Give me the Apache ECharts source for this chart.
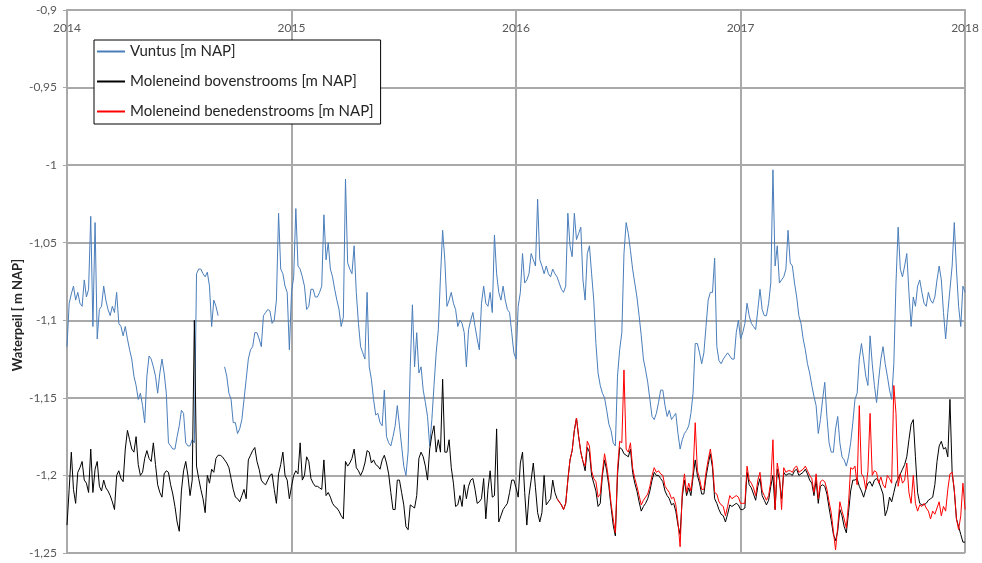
<!DOCTYPE html>
<html>
<head>
<meta charset="utf-8">
<title>Waterpeil</title>
<script src="https://cdn.jsdelivr.net/npm/echarts@6/dist/echarts.min.js"></script>
<style>
html, body {
	margin: 0;
	padding: 0;
	background: #fff;
}
#chart {
	width: 982px;
	height: 563px;
}
</style>
</head>
<body>
<div id="chart"></div>
<script type="text/javascript">
// two readings per week (half-week steps), first one at 1 jan 2014
var startYear = 2014;
var perYear = 104;
var yearTicks = [2014, 2015, 2016, 2017, 2018];

var vuntus = [
	-1.117, -1.089, -1.083, -1.078, -1.087, -1.082, -1.089, -1.091, -1.074, -1.085,
	-1.080, -1.033, -1.104, -1.037, -1.112, -1.093, -1.091, -1.078, -1.087, -1.093,
	-1.097, -1.091, -1.095, -1.082, -1.102, -1.104, -1.110, -1.104, -1.112, -1.119,
	-1.125, -1.136, -1.142, -1.151, -1.147, -1.155, -1.166, -1.136, -1.123, -1.125,
	-1.130, -1.136, -1.147, -1.134, -1.125, -1.134, -1.147, -1.179, -1.181, -1.183,
	-1.183, -1.175, -1.168, -1.158, -1.160, -1.179, -1.181, -1.181, -1.177, -1.179,
	-1.070, -1.067, -1.067, -1.070, -1.072, -1.069, -1.078, -1.104, -1.087, -1.091,
	-1.097, null, null, -1.130, -1.136, -1.147, -1.151, -1.166, -1.166, -1.173,
	-1.170, -1.164, -1.151, -1.138, -1.125, -1.119, -1.117, -1.108, -1.108, -1.112,
	-1.117, -1.097, -1.095, -1.093, -1.094, -1.102, -1.100, -1.087, -1.031, -1.067,
	-1.070, -1.078, -1.082, -1.119, -1.082, -1.072, -1.028, -1.065, -1.067, -1.072,
	-1.078, -1.093, -1.091, -1.080, -1.080, -1.085, -1.085, -1.082, -1.078, -1.032,
	-1.061, -1.050, -1.067, -1.072, -1.080, -1.087, -1.093, -1.104, -1.098, -1.009,
	-1.063, -1.067, -1.070, -1.052, -1.082, -1.102, -1.117, -1.121, -1.125, -1.082,
	-1.130, -1.138, -1.151, -1.161, -1.160, -1.166, -1.168, -1.145, -1.175, -1.179,
	-1.181, -1.175, -1.168, -1.155, -1.168, -1.181, -1.194, -1.200, -1.185, -1.130,
	-1.090, -1.130, -1.108, -1.134, -1.130, -1.145, -1.153, -1.162, -1.181, -1.164,
	-1.142, -1.121, -1.106, -1.072, -1.042, -1.061, -1.091, -1.087, -1.082, -1.089,
	-1.093, -1.104, -1.100, -1.102, -1.108, -1.130, -1.106, -1.100, -1.095, -1.104,
	-1.112, -1.119, -1.089, -1.078, -1.089, -1.091, -1.082, -1.095, -1.045, -1.070,
	-1.082, -1.087, -1.078, -1.087, -1.093, -1.095, -1.108, -1.121, -1.125, -1.091,
	-1.082, -1.057, -1.076, -1.074, -1.070, -1.057, -1.061, -1.065, -1.022, -1.061,
	-1.065, -1.070, -1.065, -1.070, -1.072, -1.067, -1.070, -1.072, -1.076, -1.080,
	-1.082, -1.078, -1.031, -1.052, -1.059, -1.031, -1.048, -1.044, -1.040, -1.074,
	-1.087, -1.057, -1.052, -1.070, -1.087, -1.115, -1.134, -1.142, -1.147, -1.150,
	-1.158, -1.167, -1.171, -1.179, -1.181, -1.136, -1.119, -1.108, -1.057, -1.037,
	-1.044, -1.055, -1.067, -1.076, -1.085, -1.097, -1.110, -1.125, -1.132, -1.140,
	-1.151, -1.162, -1.164, -1.160, -1.153, -1.145, -1.145, -1.155, -1.162, -1.158,
	-1.164, -1.162, -1.160, -1.173, -1.183, -1.177, -1.173, -1.171, -1.168, -1.160,
	-1.147, -1.115, -1.115, -1.121, -1.128, -1.121, -1.104, -1.087, -1.082, -1.082,
	-1.060, -1.117, -1.126, -1.128, -1.125, -1.123, -1.121, -1.123, -1.125, -1.125,
	-1.108, -1.100, -1.112, -1.108, -1.102, -1.089, -1.097, -1.102, -1.104, -1.106,
	-1.093, -1.080, -1.093, -1.097, -1.097, -1.089, -1.076, -1.003, -1.065, -1.052,
	-1.076, -1.074, -1.072, -1.067, -1.042, -1.063, -1.065, -1.076, -1.085, -1.097,
	-1.102, -1.112, -1.119, -1.128, -1.134, -1.142, -1.149, -1.155, -1.173, -1.164,
	-1.151, -1.140, -1.162, -1.179, -1.185, -1.185, -1.170, -1.162, -1.179, -1.188,
	-1.190, -1.194, -1.188, -1.179, -1.166, -1.151, -1.147, -1.125, -1.115, -1.125,
	-1.136, -1.142, -1.110, -1.128, -1.142, -1.153, -1.138, -1.125, -1.117, -1.128,
	-1.136, -1.145, -1.151, -1.128, -1.076, -1.040, -1.067, -1.072, -1.065, -1.057,
	-1.082, -1.104, -1.085, -1.091, -1.078, -1.074, -1.082, -1.089, -1.091, -1.082,
	-1.087, -1.089, -1.085, -1.074, -1.065, -1.074, -1.095, -1.112, -1.095, -1.080,
	-1.065, -1.037, -1.067, -1.091, -1.104, -1.078, -1.082
];

var bovenstrooms = [
	-1.232, -1.209, -1.185, -1.209, -1.218, -1.198, -1.195, -1.191, -1.203, -1.205,
	-1.211, -1.183, -1.211, -1.196, -1.191, -1.207, -1.210, -1.203, -1.208, -1.210,
	-1.213, -1.217, -1.222, -1.200, -1.197, -1.202, -1.204, -1.183, -1.171, -1.177,
	-1.183, -1.185, -1.175, -1.193, -1.200, -1.198, -1.189, -1.184, -1.189, -1.191,
	-1.179, -1.193, -1.206, -1.211, -1.214, -1.199, -1.197, -1.198, -1.206, -1.212,
	-1.220, -1.230, -1.236, -1.210, -1.197, -1.191, -1.200, -1.213, -1.203, -1.100,
	-1.194, -1.202, -1.209, -1.215, -1.224, -1.200, -1.205, -1.196, -1.198, -1.189,
	-1.187, -1.187, -1.188, -1.190, -1.192, -1.195, -1.202, -1.209, -1.214, -1.215,
	-1.217, -1.213, -1.209, -1.215, -1.190, -1.187, -1.184, -1.182, -1.191, -1.196,
	-1.203, -1.205, -1.206, -1.203, -1.200, -1.199, -1.209, -1.218, -1.199, -1.193,
	-1.185, -1.200, -1.203, -1.215, -1.207, -1.200, -1.197, -1.199, -1.179, -1.203,
	-1.200, -1.188, -1.191, -1.202, -1.205, -1.207, -1.207, -1.208, -1.209, -1.190,
	-1.213, -1.211, -1.214, -1.218, -1.220, -1.221, -1.223, -1.226, -1.228, -1.191,
	-1.194, -1.192, -1.189, -1.183, -1.195, -1.197, -1.200, -1.197, -1.192, -1.184,
	-1.185, -1.192, -1.190, -1.193, -1.194, -1.196, -1.190, -1.187, -1.192, -1.199,
	-1.211, -1.222, -1.222, -1.203, -1.203, -1.211, -1.219, -1.233, -1.235, -1.219,
	-1.220, -1.221, -1.213, -1.189, -1.185, -1.188, -1.194, -1.203, -1.183, -1.174,
	-1.168, -1.185, -1.177, -1.185, -1.138, -1.185, -1.185, -1.177, -1.195, -1.205,
	-1.220, -1.219, -1.213, -1.220, -1.206, -1.215, -1.207, -1.203, -1.202, -1.209,
	-1.218, -1.217, -1.215, -1.202, -1.228, -1.209, -1.197, -1.214, -1.213, -1.170,
	-1.230, -1.226, -1.222, -1.220, -1.218, -1.211, -1.203, -1.203, -1.208, -1.214,
	-1.192, -1.185, -1.211, -1.232, -1.213, -1.203, -1.192, -1.208, -1.224, -1.230,
	-1.224, -1.200, -1.219, -1.217, -1.215, -1.203, -1.211, -1.215, -1.217, -1.219,
	-1.222, -1.218, -1.203, -1.190, -1.184, -1.171, -1.163, -1.175, -1.185, -1.191,
	-1.197, -1.182, -1.185, -1.200, -1.205, -1.210, -1.220, -1.218, -1.200, -1.190,
	-1.197, -1.207, -1.220, -1.232, -1.239, -1.200, -1.182, -1.183, -1.186, -1.187,
	-1.188, -1.183, -1.198, -1.205, -1.210, -1.217, -1.223, -1.220, -1.218, -1.215,
	-1.210, -1.203, -1.198, -1.200, -1.200, -1.202, -1.204, -1.210, -1.213, -1.215,
	-1.219, -1.218, -1.223, -1.232, -1.238, -1.214, -1.203, -1.213, -1.208, -1.213,
	-1.201, -1.190, -1.200, -1.205, -1.212, -1.212, -1.201, -1.193, -1.186, -1.195,
	-1.215, -1.218, -1.222, -1.225, -1.226, -1.230, -1.225, -1.219, -1.220, -1.219,
	-1.218, -1.219, -1.222, -1.222, -1.221, -1.198, -1.206, -1.208, -1.212, -1.216,
	-1.207, -1.202, -1.213, -1.216, -1.219, -1.216, -1.207, -1.200, -1.222, -1.196,
	-1.203, -1.215, -1.198, -1.200, -1.199, -1.199, -1.200, -1.197, -1.196, -1.200,
	-1.199, -1.198, -1.196, -1.199, -1.203, -1.205, -1.213, -1.203, -1.218, -1.207,
	-1.206, -1.207, -1.212, -1.221, -1.229, -1.238, -1.242, -1.236, -1.222, -1.226,
	-1.233, -1.237, -1.224, -1.210, -1.203, -1.203, -1.202, -1.207, -1.210, -1.214,
	-1.209, -1.205, -1.204, -1.207, -1.203, -1.202, -1.204, -1.208, -1.212, -1.226,
	-1.222, -1.214, -1.217, -1.211, -1.205, -1.202, -1.199, -1.196, -1.193, -1.188,
	-1.177, -1.167, -1.164, -1.188, -1.211, -1.218, -1.219, -1.219, -1.218, -1.216,
	-1.215, -1.214, -1.206, -1.191, -1.181, -1.178, -1.183, -1.182, -1.188, -1.151,
	-1.198, -1.210, -1.228, -1.233, -1.238, -1.243, -1.243
];

// benedenstrooms starts at half-week 227 (spring 2016)
var benedenStart = 227;
var benedenstrooms = [
	-1.215,
	-1.217, -1.219, -1.222, -1.218, -1.203, -1.190, -1.184, -1.171, -1.163, -1.175,
	-1.185, -1.191, -1.194, -1.178, -1.181, -1.197, -1.202, -1.204, -1.214, -1.212,
	-1.198, -1.186, -1.194, -1.204, -1.218, -1.228, -1.237, -1.196, -1.178, -1.179,
	-1.132, -1.183, -1.185, -1.179, -1.195, -1.202, -1.207, -1.213, -1.219, -1.216,
	-1.214, -1.212, -1.207, -1.200, -1.195, -1.198, -1.197, -1.199, -1.200, -1.207,
	-1.209, -1.211, -1.215, -1.214, -1.219, -1.230, -1.246, -1.211, -1.199, -1.211,
	-1.205, -1.210, -1.198, -1.166, -1.197, -1.202, -1.209, -1.209, -1.198, -1.190,
	-1.183, -1.192, -1.211, -1.212, -1.217, -1.219, -1.220, -1.226, -1.220, -1.213,
	-1.215, -1.214, -1.213, -1.214, -1.218, -1.218, -1.218, -1.194, -1.203, -1.205,
	-1.208, -1.213, -1.203, -1.198, -1.210, -1.213, -1.216, -1.213, -1.204, -1.177,
	-1.222, -1.192, -1.200, -1.222, -1.195, -1.198, -1.197, -1.197, -1.198, -1.195,
	-1.194, -1.198, -1.197, -1.196, -1.194, -1.197, -1.200, -1.202, -1.211, -1.199,
	-1.215, -1.204, -1.203, -1.204, -1.209, -1.217, -1.224, -1.236, -1.248, -1.233,
	-1.217, -1.223, -1.228, -1.234, -1.218, -1.195, -1.196, -1.194, -1.206, -1.155,
	-1.199, -1.201, -1.209, -1.197, -1.160, -1.200, -1.197, -1.198, -1.205, -1.201,
	-1.206, -1.208, -1.200, -1.202, -1.205, -1.142, -1.160, -1.207, -1.199, -1.205,
	-1.203, -1.192, -1.211, -1.218, -1.200, -1.218, -1.223, -1.219, -1.220, -1.218,
	-1.221, -1.223, -1.228, -1.223, -1.225, -1.221, -1.217, -1.226, -1.220, -1.223,
	-1.209, -1.199, -1.198, -1.209, -1.228, -1.235, -1.226, -1.205, -1.222
];

var seriesNames = ['Vuntus [m NAP]', 'Moleneind bovenstrooms [m NAP]', 'Moleneind benedenstrooms [m NAP]'];
var seriesColors = ['#4a7ebb', '#000000', '#ff0000'];

function toPoints(values, offset) {
	return values.map(function (v, i) {
		return [startYear + (offset + i) / perYear, v];
	});
}

function commaNumber(v) {
	return String(parseFloat(v.toFixed(2))).replace('.', ',');
}

function lineSeries(k, values, offset) {
	return {
		name: seriesNames[k],
		type: 'line',
		showSymbol: false,
		connectNulls: false,
		color: seriesColors[k],
		itemStyle: {color: seriesColors[k]},
		lineStyle: {width: 1, color: seriesColors[k]},
		data: toPoints(values, offset)
	};
}

var gridColor = '#a9a9a9';
var labelColor = '#595959';
var fontName = 'Lato';

var chart = echarts.init(document.getElementById('chart'));

var option = {
	animation: false,
	backgroundColor: '#fff',
	grid: {left: 67, right: 14, top: 10, bottom: 10},
	legend: {
		orient: 'vertical',
		left: 94,
		top: 40,
		padding: [4, 7, 5, 3],
		itemGap: 15,
		itemWidth: 28,
		itemHeight: 2,
		icon: 'rect',
		borderColor: '#000',
		borderWidth: 1,
		backgroundColor: '#fff',
		data: seriesNames.map(function (n, k) {
			return {name: n, itemStyle: {color: seriesColors[k]}};
		}),
		textStyle: {fontFamily: fontName, fontSize: 15, color: '#262626', lineHeight: 15}
	},
	graphic: [{
		type: 'text',
		x: 18,
		y: 315,
		rotation: Math.PI / 2,
		style: {
			text: 'Waterpeil [ m NAP]',
			font: 'bold 13px Lato',
			fill: '#262626',
			align: 'center',
			verticalAlign: 'middle'
		}
	}],
	xAxis: {
		type: 'value',
		position: 'top',
		min: 2014,
		max: 2018,
		interval: 1,
		axisLine: {show: true, lineStyle: {color: gridColor, width: 2}},
		axisTick: {show: false},
		axisLabel: {
			inside: true,
			margin: 12,
			showMinLabel: true,
			showMaxLabel: true,
			color: labelColor,
			fontFamily: fontName,
			fontSize: 12,
			formatter: function (v) { return yearTicks.indexOf(v) >= 0 ? String(v) : ''; }
		},
		splitLine: {show: true, lineStyle: {color: gridColor, width: 2}}
	},
	yAxis: {
		type: 'value',
		min: -1.25,
		max: -0.9,
		interval: 0.05,
		axisLine: {show: true, lineStyle: {color: gridColor, width: 2}},
		axisTick: {show: true, length: 4, lineStyle: {color: gridColor}},
		axisLabel: {
			margin: 10,
			color: labelColor,
			fontFamily: fontName,
			fontSize: 12,
			formatter: commaNumber
		},
		splitLine: {show: true, lineStyle: {color: gridColor, width: 2}}
	},
	series: [
		lineSeries(0, vuntus, 0),
		lineSeries(1, bovenstrooms, 0),
		lineSeries(2, benedenstrooms, benedenStart)
	]
};

chart.setOption(option);
</script>
</body>
</html>
